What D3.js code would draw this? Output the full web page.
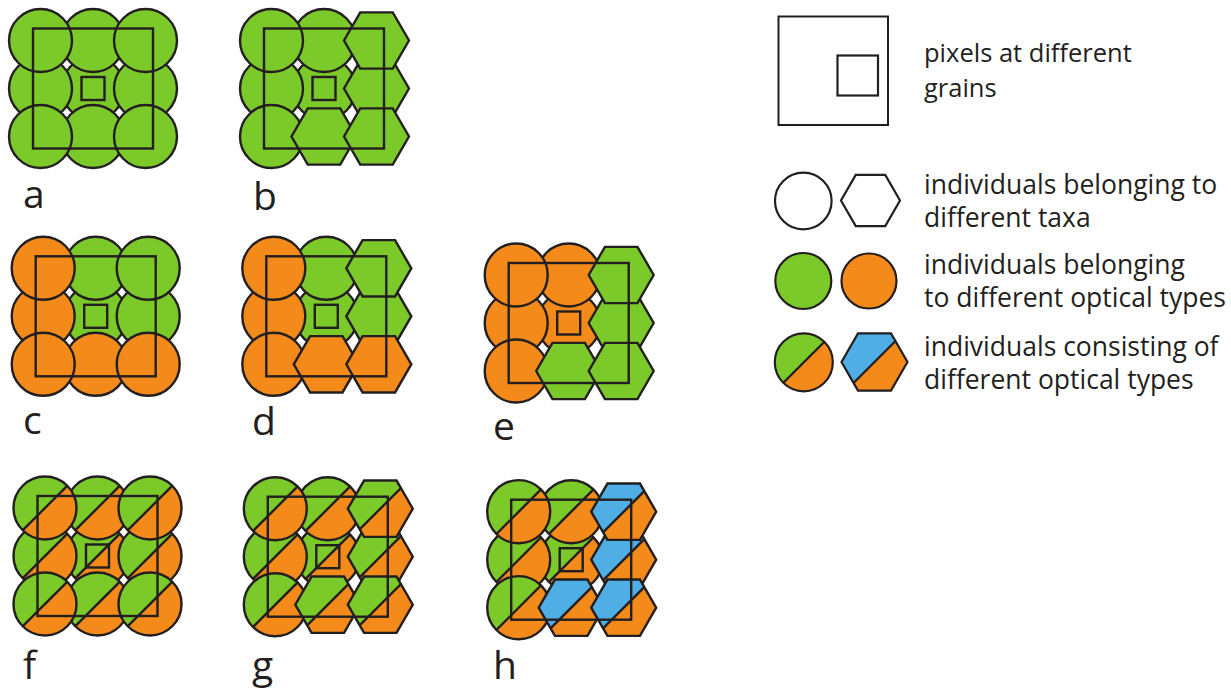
<!DOCTYPE html>
<html>
<head>
<meta charset="utf-8">
<script src="https://cdn.jsdelivr.net/npm/d3@7/dist/d3.min.js"></script>
<style>
  html, body { margin: 0; padding: 0; background: #ffffff; }
  svg { display: block; }
  text { font-family: "Open Sans", "Noto Sans", sans-serif; fill: #231f20; }
</style>
</head>
<body>
<svg id="chart" width="1231" height="691"></svg>
<script>
// ---------------- data ----------------
const panelLabels = ["a", "b", "c", "d", "e", "f", "g", "h"];

// cell shapes, row-major 3x3: "c" = circle individual, "h" = hexagon individual
const panelShapes = [
  ["c", "c", "c", "c", "c", "c", "c", "c", "c"],
  ["c", "c", "h", "c", "c", "h", "c", "h", "h"],
  ["c", "c", "c", "c", "c", "c", "c", "c", "c"],
  ["c", "c", "h", "c", "c", "h", "c", "h", "h"],
  ["c", "c", "h", "c", "c", "h", "c", "h", "h"],
  ["c", "c", "c", "c", "c", "c", "c", "c", "c"],
  ["c", "c", "h", "c", "c", "h", "c", "h", "h"],
  ["c", "c", "h", "c", "c", "h", "c", "h", "h"]
];

// optical types: G green, O orange, GO split green/orange, BO split blue/orange
const panelTypes = [
  ["G", "G", "G", "G", "G", "G", "G", "G", "G"],
  ["G", "G", "G", "G", "G", "G", "G", "G", "G"],
  ["O", "G", "G", "O", "G", "G", "O", "O", "O"],
  ["O", "G", "G", "O", "G", "G", "O", "O", "O"],
  ["O", "O", "G", "O", "O", "G", "O", "G", "G"],
  ["GO", "GO", "GO", "GO", "GO", "GO", "GO", "GO", "GO"],
  ["GO", "GO", "GO", "GO", "GO", "GO", "GO", "GO", "GO"],
  ["GO", "GO", "BO", "GO", "GO", "BO", "GO", "BO", "BO"]
];

const legendLabels = [
  ["pixels at different", "grains"],
  ["individuals belonging to", "different taxa"],
  ["individuals belonging", "to different optical types"],
  ["individuals consisting of", "different optical types"]
];

const legendSymbols = [
  [],
  [["c", "W"], ["h", "W"]],
  [["c", "G"], ["c", "O"]],
  [["c", "GO"], ["h", "BO"]]
];

// ---------------- layout & style ----------------
const colors = { G: "#7cc92a", O: "#f48a1a", B: "#4fafe4", W: "#ffffff" };
const ink = "#231f20";

const layout = {
  panelCenters: [[93, 88.5], [324, 88.5], [95.7, 316.3], [326.3, 316.3],
                 [568.7, 323], [97.5, 556], [327.8, 556.7], [571.2, 559.7]],
  labelPos: [[23, 208], [253, 210], [23, 434], [252, 435],
             [493, 440], [23, 679], [252, 679], [493, 679]],
  circleR: 31.5, hexR: 32.5, bigSq: 120, smallSq: 23,
  legendText: { x: 924, baselines: [[62, 96.5], [193.5, 226.5], [273.5, 306.5], [356, 389]] },
  legendSym: [
    [],
    [[803.3, 201, 28.3], [870.5, 200.5, 29.5]],
    [[803.3, 281, 28], [869, 281, 27.5]],
    [[803.8, 362.3, 29], [874.5, 362, 33]]
  ]
};

const svg = d3.select("#chart");
const colScale = d3.scalePoint().domain([0, 1, 2]).range([-52.5, 52.5]);
const rowScale = d3.scalePoint().domain([0, 1, 2]).range([-48, 48]);

let clipId = 0;

function shapePath(type, cx, cy, r) {
  if (type === "c") {
    const p = d3.path();
    p.moveTo(cx + r, cy);
    p.arc(cx, cy, r, 0, 2 * Math.PI);
    p.closePath();
    return p.toString();
  }
  const pts = d3.range(6).map(i => {
    const a = i * Math.PI / 3;
    return [cx + r * Math.cos(a), cy + r * Math.sin(a)];
  });
  return d3.line()(pts) + "Z";
}

function drawShape(g, type, cx, cy, r, fill, sw) {
  const d = shapePath(type, cx, cy, r);
  if (fill.length === 1) {
    g.append("path").attr("d", d).attr("fill", colors[fill])
      .attr("stroke", ink).attr("stroke-width", sw);
    return;
  }
  const id = "clip" + (clipId++);
  svg.select("defs").append("clipPath").attr("id", id).append("path").attr("d", d);
  const first = colors[fill[0]], second = colors[fill[1]];
  const grp = g.append("g");
  grp.append("path").attr("d", d).attr("fill", second);
  const L = 120, s = Math.SQRT1_2;
  const dx = s, dy = -s;          // along the dividing line (to upper right)
  const nx = -s, ny = -s;         // toward upper-left side
  const p1 = [cx + dx * L, cy + dy * L], p2 = [cx - dx * L, cy - dy * L];
  const half = [p1, p2, [p2[0] + nx * L, p2[1] + ny * L], [p1[0] + nx * L, p1[1] + ny * L]];
  const clipped = grp.append("g").attr("clip-path", `url(#${id})`);
  clipped.append("path").attr("d", d3.line()(half) + "Z").attr("fill", first);
  clipped.append("line").attr("x1", p1[0]).attr("y1", p1[1]).attr("x2", p2[0]).attr("y2", p2[1])
    .attr("stroke", ink).attr("stroke-width", sw);
  grp.append("path").attr("d", d).attr("fill", "none").attr("stroke", ink).attr("stroke-width", sw);
}

svg.append("defs");

// draw order: centre, edges, corners; circles below hexagons
const order = [4, 1, 3, 5, 7, 0, 2, 6, 8];

panelLabels.forEach((lab, pi) => {
  const [pcx, pcy] = layout.panelCenters[pi];
  const g = svg.append("g").attr("class", "panel");
  ["c", "h"].forEach(kind => {
    order.forEach(idx => {
      if (panelShapes[pi][idx] !== kind) return;
      const col = idx % 3, row = Math.floor(idx / 3);
      const cx = pcx + colScale(col), cy = pcy + rowScale(row);
      const r = kind === "c" ? layout.circleR : layout.hexR;
      drawShape(g, kind, cx, cy, r, panelTypes[pi][idx], 2.4);
    });
  });
  g.append("rect")
    .attr("x", pcx - layout.bigSq / 2).attr("y", pcy - layout.bigSq / 2)
    .attr("width", layout.bigSq).attr("height", layout.bigSq)
    .attr("fill", "none").attr("stroke", ink).attr("stroke-width", 2.4);
  g.append("rect")
    .attr("x", pcx - layout.smallSq / 2).attr("y", pcy - layout.smallSq / 2)
    .attr("width", layout.smallSq).attr("height", layout.smallSq)
    .attr("fill", "none").attr("stroke", ink).attr("stroke-width", 2.4);
  const [lx, ly] = layout.labelPos[pi];
  svg.append("text").attr("x", lx).attr("y", ly).attr("font-size", 39).text(lab);
});

// ---------------- legend ----------------
const lg = svg.append("g").attr("class", "legend");
lg.append("rect").attr("x", 778.5).attr("y", 16.5).attr("width", 109.5).attr("height", 108.5)
  .attr("fill", "none").attr("stroke", ink).attr("stroke-width", 2);
lg.append("rect").attr("x", 837.5).attr("y", 55.5).attr("width", 40.5).attr("height", 40)
  .attr("fill", "none").attr("stroke", ink).attr("stroke-width", 2.2);

legendSymbols.forEach((syms, ri) => {
  syms.forEach((s, si) => {
    const [cx, cy, r] = layout.legendSym[ri][si];
    drawShape(lg, s[0], cx, cy, r, s[1], 2.2);
  });
});

legendLabels.forEach((lines, ri) => {
  lines.forEach((t, li) => {
    lg.append("text").attr("x", layout.legendText.x)
      .attr("y", layout.legendText.baselines[ri][li])
      .attr("font-size", ri === 0 ? 25.5 : 26.5).text(t);
  });
});
</script>
</body>
</html>
